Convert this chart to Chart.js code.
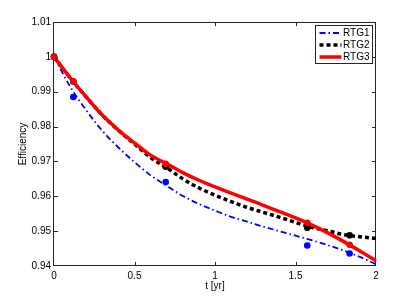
<!DOCTYPE html>
<html>
<head>
<meta charset="utf-8">
<script src="https://cdn.jsdelivr.net/npm/chart.js@4.4.0/dist/chart.umd.min.js"></script>
<style>
  html, body { margin: 0; padding: 0; background: #fff; }
  #wrap { width: 415px; height: 300px; }
</style>
</head>
<body>
<div id="wrap"><canvas id="chart" width="415" height="300"></canvas></div>
<script>
// Model curves
const tLine = [0, 0.1, 0.2, 0.3, 0.4, 0.5, 0.6, 0.7, 0.8, 0.9, 1.0,
               1.1, 1.2, 1.3, 1.4, 1.5, 1.6, 1.7, 1.8, 1.9, 2.0];
const rtg1 = [1.0, 0.9915, 0.9847, 0.9788, 0.9740, 0.9698, 0.9660, 0.9630, 0.9601, 0.9578, 0.9559,
              0.9541, 0.9527, 0.9513, 0.9500, 0.9487, 0.9474, 0.9460, 0.9444, 0.9426, 0.9405];
const rtg2 = [1.0, 0.9940, 0.9885, 0.9833, 0.9789, 0.9750, 0.9711, 0.9682, 0.9650, 0.9624, 0.9603,
              0.9585, 0.9568, 0.9554, 0.9540, 0.9525, 0.9511, 0.9501, 0.9490, 0.9484, 0.9479];
const rtg3 = [1.0, 0.9940, 0.9885, 0.9833, 0.9790, 0.9753, 0.9718, 0.9693, 0.9668, 0.9646, 0.9627,
              0.9609, 0.9592, 0.9574, 0.9556, 0.9538, 0.9518, 0.9495, 0.9470, 0.9443, 0.9415];

// Measured points
const tMark = [0, 0.12, 0.694, 1.573, 1.836];
const mark1 = [1.0, 0.9885, 0.9641, 0.9459, 0.9436];
const mark2 = [1.0, 0.9929, 0.9685, 0.9510, 0.9488];
const mark3 = [1.0, 0.9929, 0.9693, 0.9524, 0.9461];

const seriesNames = ['RTG1', 'RTG2', 'RTG3'];
const xTitle = 't [yr]';
const yTitle = 'Efficiency';

const FONT = 'Liberation Sans, Arial, Helvetica, sans-serif';

function pts(xs, ys) {
  return xs.map((x, i) => ({ x: x, y: ys[i] }));
}

function lineSet(label, xs, ys, color, width, dash, order) {
  return {
    label: label,
    data: pts(xs, ys),
    borderColor: color,
    backgroundColor: color,
    borderWidth: width,
    borderDash: dash,
    borderCapStyle: 'butt',
    pointRadius: 0,
    fill: false,
    cubicInterpolationMode: 'monotone',
    clip: false,
    order: order,
    isLegend: true
  };
}

function markSet(xs, ys, color, order) {
  return {
    label: '',
    data: pts(xs, ys),
    showLine: false,
    pointRadius: 3.3,
    pointBackgroundColor: color,
    pointBorderColor: color,
    pointBorderWidth: 0,
    clip: false,
    order: order
  };
}

// box with inward ticks, matlab style
const boxPlugin = {
  id: 'box',
  beforeDatasetsDraw(chart) {
    const { ctx, chartArea: a, scales } = chart;
    ctx.save();
    ctx.strokeStyle = '#262626';
    ctx.lineWidth = 1;
    ctx.strokeRect(a.left - 0.5, a.top + 0.5, a.right - a.left, a.bottom - a.top - 1);
    const len = 4;
    ctx.beginPath();
    scales.x.ticks.forEach(t => {
      const px = Math.round(scales.x.getPixelForValue(t.value)) + 0.5;
      if (px <= a.left + 1 || px >= a.right - 1) return;
      ctx.moveTo(px, a.bottom); ctx.lineTo(px, a.bottom - len);
      ctx.moveTo(px, a.top); ctx.lineTo(px, a.top + len);
    });
    scales.y.ticks.forEach(t => {
      const py = Math.round(scales.y.getPixelForValue(t.value)) + 0.5;
      if (py <= a.top + 1 || py >= a.bottom - 1) return;
      ctx.moveTo(a.left, py); ctx.lineTo(a.left + len, py);
      ctx.moveTo(a.right, py); ctx.lineTo(a.right - len, py);
    });
    ctx.stroke();
    ctx.restore();
  }
};

const legendPlugin = {
  id: 'boxLegend',
  afterDraw(chart) {
    const { ctx, chartArea: a } = chart;
    const sets = chart.data.datasets.filter(d => d.isLegend);
    const x0 = a.right - 60.5, y0 = a.top + 3.5, w = 57, h = 38;
    ctx.save();
    ctx.fillStyle = '#fff';
    ctx.fillRect(x0, y0, w, h);
    ctx.strokeStyle = '#262626';
    ctx.lineWidth = 1;
    ctx.strokeRect(x0, y0, w, h);
    ctx.font = '10px ' + FONT;
    ctx.textBaseline = 'middle';
    sets.forEach((d, i) => {
      const y = y0 + 7.5 + i * 12;
      ctx.beginPath();
      ctx.strokeStyle = d.borderColor;
      ctx.lineWidth = d.borderWidth;
      ctx.setLineDash(d.borderDash || []);
      ctx.moveTo(x0 + 4, y); ctx.lineTo(x0 + 26, y);
      ctx.stroke();
      ctx.setLineDash([]);
      ctx.fillStyle = '#000';
      ctx.fillText(d.label, x0 + 27.5, y + 0.5);
    });
    ctx.restore();
  }
};

const ctx = document.getElementById('chart').getContext('2d');
new Chart(ctx, {
  type: 'line',
  data: {
    datasets: [
      lineSet(seriesNames[0], tLine, rtg1, '#0000ff', 1.8, [6, 3, 1.5, 3], 6),
      lineSet(seriesNames[1], tLine, rtg2, '#000000', 3.5, [4, 3], 5),
      lineSet(seriesNames[2], tLine, rtg3, '#ff0000', 3.5, [], 4),
      markSet(tMark, mark1, '#0000ff', 3),
      markSet(tMark, mark2, '#000000', 2),
      markSet(tMark, mark3, '#ff0000', 1)
    ]
  },
  options: {
    responsive: false,
    animation: false,
    devicePixelRatio: 1,
    layout: { padding: { top: 22, right: 39, left: 0, bottom: 0 } },
    plugins: {
      legend: { display: false },
      tooltip: { enabled: false }
    },
    scales: {
      x: {
        type: 'linear',
        min: 0,
        max: 2,
        afterFit: s => { s.height = 34; },
        grid: { display: false, drawTicks: false },
        border: { display: false },
        ticks: {
          stepSize: 0.5,
          padding: 4,
          color: '#000',
          font: { family: FONT, size: 10 },
          callback: v => String(+v.toFixed(2))
        },
        title: {
          display: true,
          text: xTitle,
          color: '#000',
          font: { family: FONT, size: 10 },
          padding: { top: 0, bottom: 8 }
        }
      },
      y: {
        min: 0.94,
        max: 1.01,
        afterFit: s => { s.width = 54; },
        grid: { display: false, drawTicks: false },
        border: { display: false },
        ticks: {
          stepSize: 0.01,
          padding: 3,
          color: '#000',
          font: { family: FONT, size: 10 },
          callback: v => String(+v.toFixed(2))
        },
        title: {
          display: true,
          text: yTitle,
          color: '#000',
          font: { family: FONT, size: 10 },
          padding: { top: 17, bottom: 0 }
        }
      }
    }
  },
  plugins: [boxPlugin, legendPlugin]
});
</script>
</body>
</html>
